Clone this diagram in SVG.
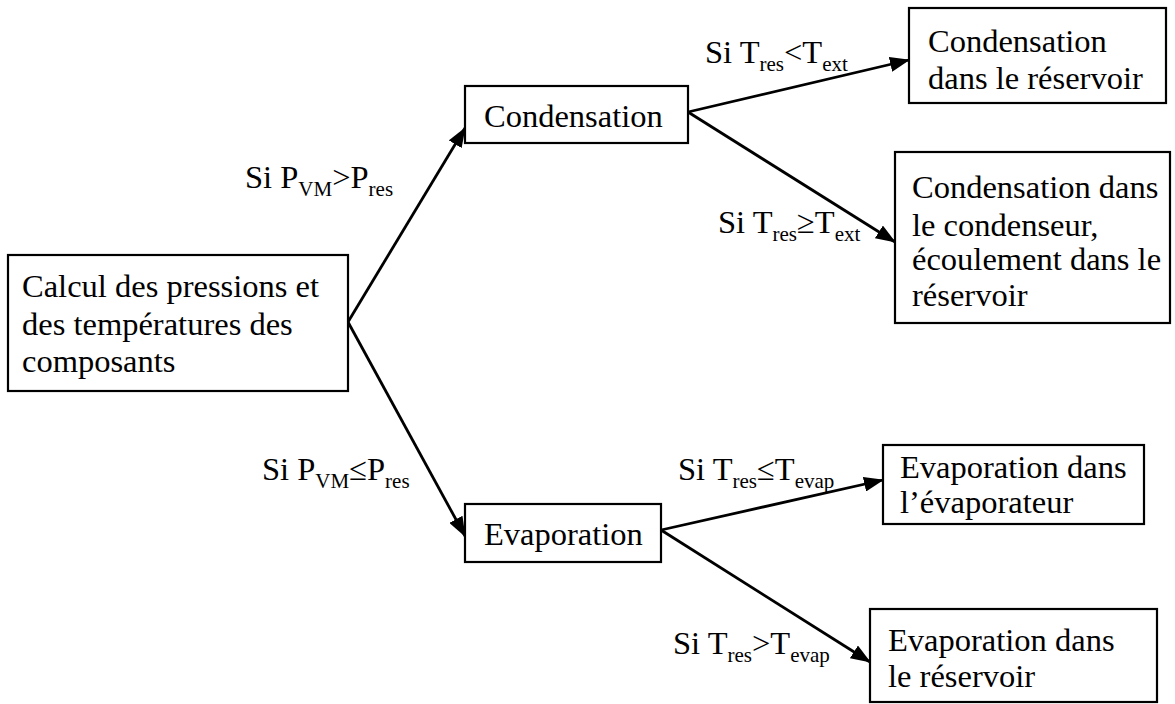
<svg xmlns="http://www.w3.org/2000/svg" width="1175" height="704" viewBox="0 0 1175 704">
<defs>
<style>
.box{fill:#fff;stroke:#000;stroke-width:2.2}
.t{font-family:"Liberation Serif","Times New Roman",serif;font-size:32.5px;fill:#000}
.s{font-size:21px}
.c{stroke:#000;stroke-width:2.8;fill:none;marker-end:url(#ah)}
</style>
<marker id="ah" markerWidth="20" markerHeight="15" refX="19" refY="7.5" orient="auto" markerUnits="userSpaceOnUse">
<path d="M0,0 L20,7.5 L0,15 Z" fill="#000"/>
</marker>
</defs>
<rect width="1175" height="704" fill="#fff"/>
<g id="connectors">
<line class="c" x1="348" y1="322" x2="465" y2="128"/>
<line class="c" x1="348" y1="322" x2="465" y2="536"/>
<line class="c" x1="688" y1="112" x2="909" y2="60"/>
<line class="c" x1="688" y1="112" x2="895" y2="242"/>
<line class="c" x1="661" y1="530" x2="883" y2="480"/>
<line class="c" x1="661" y1="530" x2="870" y2="662"/>
</g>
<g id="labels">
<text class="t" x="245" y="188">Si P<tspan class="s" dy="8">VM</tspan><tspan dy="-8">&gt;P</tspan><tspan class="s" dy="8">res</tspan></text>
<text class="t" x="262" y="480">Si P<tspan class="s" dy="8">VM</tspan><tspan dy="-8">≤P</tspan><tspan class="s" dy="8">res</tspan></text>
<text class="t" x="705" y="63">Si T<tspan class="s" dy="8">res</tspan><tspan dy="-8">&lt;T</tspan><tspan class="s" dy="8">ext</tspan></text>
<text class="t" x="718" y="233">Si T<tspan class="s" dy="8">res</tspan><tspan dy="-8">≥T</tspan><tspan class="s" dy="8">ext</tspan></text>
<text class="t" x="678" y="480">Si T<tspan class="s" dy="8">res</tspan><tspan dy="-8">≤T</tspan><tspan class="s" dy="8">evap</tspan></text>
<text class="t" x="673" y="654">Si T<tspan class="s" dy="8">res</tspan><tspan dy="-8">&gt;T</tspan><tspan class="s" dy="8">evap</tspan></text>
</g>
<g id="calcul">
<rect class="box" x="8" y="255" width="340" height="136"/>
<text class="t" x="22" y="297">Calcul des pressions et</text>
<text class="t" x="22" y="335">des températures des</text>
<text class="t" x="22" y="372">composants</text>
</g>
<g id="condensation">
<rect class="box" x="465" y="86" width="223" height="57"/>
<text class="t" x="484" y="127">Condensation</text>
</g>
<g id="evaporation">
<rect class="box" x="465" y="504" width="196" height="58"/>
<text class="t" x="484" y="545">Evaporation</text>
</g>
<g id="cond-reservoir">
<rect class="box" x="909" y="8" width="257" height="95"/>
<text class="t" x="928" y="52">Condensation</text>
<text class="t" x="928" y="89">dans le réservoir</text>
</g>
<g id="cond-condenseur">
<rect class="box" x="895" y="152" width="275" height="171"/>
<text class="t" x="912" y="198">Condensation dans</text>
<text class="t" x="912" y="236">le condenseur,</text>
<text class="t" x="912" y="270">écoulement dans le</text>
<text class="t" x="912" y="306">réservoir</text>
</g>
<g id="evap-evaporateur">
<rect class="box" x="883" y="445" width="261" height="79"/>
<text class="t" x="900" y="478">Evaporation dans</text>
<text class="t" x="900" y="513">l’évaporateur</text>
</g>
<g id="evap-reservoir">
<rect class="box" x="870" y="609" width="287" height="93"/>
<text class="t" x="888" y="651">Evaporation dans</text>
<text class="t" x="888" y="687">le réservoir</text>
</g>
</svg>
